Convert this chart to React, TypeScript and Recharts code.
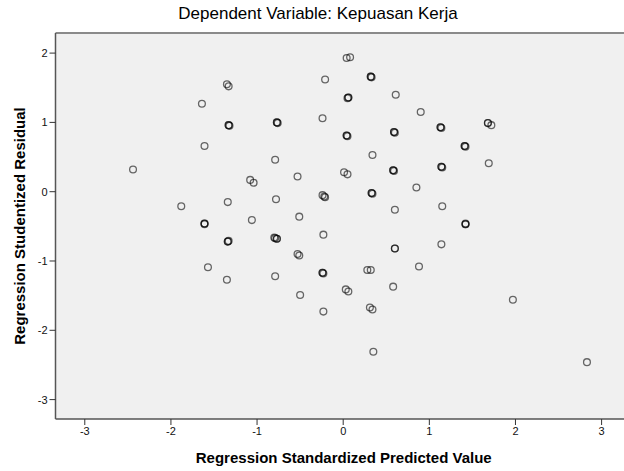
import React from 'react';
import {
  ScatterChart,
  Scatter,
  XAxis,
  YAxis,
  CartesianGrid,
  ReferenceLine,
  Label,
} from 'recharts';

// Regression standardized predicted value (x) and studentized residual (y).
// Darker circles in the source are several overlapping cases, so they appear more than once.
const predicted = [
  -2.44, -1.88, -1.64, -1.61, -1.61, -1.61, -1.61, -1.35, -1.33, -1.33, -1.33, -1.32,
  -1.34, -1.08, -1.04, -1.06, -0.77, -0.77, -0.76, -0.79, -0.78, -0.53, -0.51, -0.24,
  -0.21, -0.24, -0.22, -0.21, 0.04, 0.08, 0.32, 0.32, 0.33, 0.06, 0.06, 0.05,
  0.61, 0.04, 0.04, 0.05, 0.90, 0.59, 0.59, 0.60, 1.13, 1.13, 1.14, 1.68, 1.68,
  1.72, 1.41, 1.41, 1.42, 0.34, 0.01, 0.05, 0.58, 0.58, 0.59, 1.14, 1.14, 1.15,
  1.69, 0.33, 0.33, 0.34, 0.85, 0.60, 1.15, 1.42, 1.42, 1.42, -0.23, -1.34, -1.34,
  -1.33, -0.80, -0.77, -0.77, -0.79, -0.53, -0.51, -0.24, -0.24, -0.23, -1.57, -1.35,
  -0.79, -0.50, -0.23, 0.60, 0.60, 1.14, 0.28, 0.32, 0.88, 0.03, 0.06, 0.58, 0.31,
  0.34, 1.97, 0.35, 2.83,
];

const residual = [
  0.32, -0.21, 1.27, 0.66, -0.46, -0.46, -0.47, 1.55, 1.52, 0.96, 0.96, 0.95,
  -0.15, 0.17, 0.13, -0.41, 1.0, 1.0, 0.99, 0.46, -0.11, 0.22, -0.36, 1.06,
  1.62, -0.05, -0.07, -0.08, 1.93, 1.94, 1.66, 1.66, 1.65, 1.36, 1.36, 1.35,
  1.4, 0.81, 0.81, 0.8, 1.15, 0.86, 0.86, 0.85, 0.93, 0.93, 0.92, 0.99, 0.99,
  0.96, 0.66, 0.66, 0.65, 0.53, 0.28, 0.25, 0.31, 0.31, 0.3, 0.36, 0.36, 0.35,
  0.41, -0.02, -0.02, -0.03, 0.06, -0.26, -0.21, -0.47, -0.47, -0.46, -0.62, -0.72, -0.72,
  -0.71, -0.66, -0.68, -0.68, -0.67, -0.9, -0.92, -1.17, -1.17, -1.18, -1.09, -1.27,
  -1.22, -1.49, -1.73, -0.82, -0.82, -0.76, -1.13, -1.13, -1.08, -1.41, -1.44, -1.37, -1.67,
  -1.7, -1.56, -2.31, -2.46,
];

const xTicks = [-3, -2, -1, 0, 1, 2, 3];
const yTicks = [-3, -2, -1, 0, 1, 2];

const data = predicted.map((x, i) => ({ x, y: residual[i] }));

const FONT = '"Liberation Sans", Arial, sans-serif';
const X_DOMAIN: [number, number] = [-3.34, 3.26];
const Y_DOMAIN: [number, number] = [-3.28, 2.29];

const Ring = (props: any) => {
  const { cx, cy } = props;
  return (
    <circle
      cx={cx}
      cy={cy}
      r={3.4}
      fill="none"
      stroke="#000"
      strokeOpacity={0.58}
      strokeWidth={1.3}
    />
  );
};

export default function App() {
  return (
    <div
      style={{
        position: 'absolute',
        left: 0,
        top: 0,
        width: 624,
        height: 471,
        overflow: 'hidden',
        background: '#fff',
        fontFamily: FONT,
      }}
    >
      <div
        style={{
          position: 'absolute',
          left: 0,
          top: 4,
          width: 636,
          textAlign: 'center',
          fontSize: 17,
          color: '#000',
        }}
      >
        Dependent Variable: Kepuasan Kerja
      </div>
      <ScatterChart
        width={624}
        height={471}
        margin={{ top: 33, right: 0, bottom: 0, left: 0 }}
      >
        <CartesianGrid fill="#f0f0f0" horizontal={false} vertical={false} />
        <ReferenceLine y={Y_DOMAIN[1]} stroke="#8a8a8a" strokeWidth={2} ifOverflow="extendDomain" />
        <XAxis
          type="number"
          dataKey="x"
          domain={X_DOMAIN}
          ticks={xTicks}
          allowDataOverflow
          height={52}
          axisLine={{ stroke: '#555', strokeWidth: 1.5 }}
          tickLine={{ stroke: '#333' }}
          tickSize={6}
          tick={{ fontSize: 11, fill: '#111', fontFamily: FONT }}
        >
          <Label
            value="Regression Standardized Predicted Value"
            position="insideBottom"
            offset={8}
            dx={4}
            style={{ fontSize: 15, fontWeight: 'bold', fill: '#000', fontFamily: FONT }}
          />
        </XAxis>
        <YAxis
          type="number"
          dataKey="y"
          domain={Y_DOMAIN}
          ticks={yTicks}
          allowDataOverflow
          width={55.5}
          axisLine={{ stroke: '#555', strokeWidth: 1.5 }}
          tickLine={{ stroke: '#333' }}
          tickSize={6}
          tick={{ fontSize: 11, fill: '#111', fontFamily: FONT }}
        >
          <Label
            value="Regression Studentized Residual"
            angle={-90}
            position="center"
            dx={-8}
            style={{ fontSize: 15, fontWeight: 'bold', fill: '#000', fontFamily: FONT, textAnchor: 'middle' }}
          />
        </YAxis>
        <Scatter data={data} shape={Ring} isAnimationActive={false} />
      </ScatterChart>
    </div>
  );
}
